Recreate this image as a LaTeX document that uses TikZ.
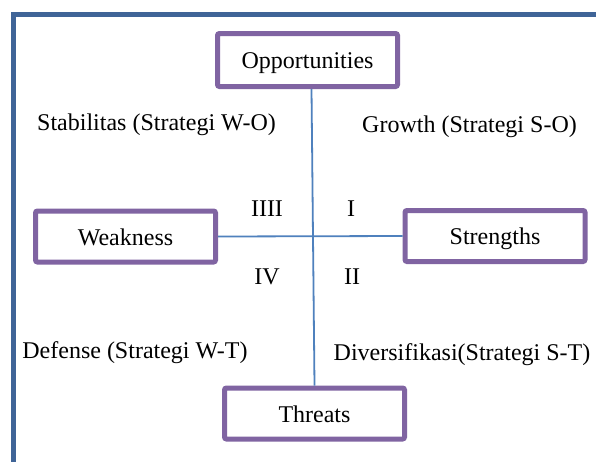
\documentclass[tikz,border=0pt]{standalone}
\usepackage{fontspec}
\setmainfont{Liberation Serif}
\usepackage{tikz}
\usetikzlibrary{positioning}
\usepackage{xcolor}
\definecolor{cframe}{HTML}{3F6497}
\definecolor{cpurple}{HTML}{8064A2}
\definecolor{cline}{HTML}{4F81BD}

\begin{document}
\begin{tikzpicture}[
  x=1pt, y=-1pt,
  box/.style={draw=cpurple, line width=5pt, rounded corners=2pt,
              minimum width=180pt, minimum height=51pt, inner sep=0pt,
              text height=22pt, text depth=5pt,
              fill=white, font=\fontsize{24}{28}\selectfont},
  lbl/.style={inner sep=0pt, text height=22pt, text depth=5pt,
              font=\fontsize{24}{28}\selectfont},
  axis/.style={draw=cline, line width=1.8pt}
]
\clip (0,0) rectangle (596,461);
\fill[white] (0,0) rectangle (596,461);
\draw[cframe, line width=5pt] (13.5,14.5) rectangle (620,490);

% the four boxes
\node[box, minimum height=53pt] (opp) at (307.5,60) {Opportunities};
\node[box] (weak) at (125.5,236.5) {Weakness};
\node[box] (str)  at (495,236)     {Strengths};
\node[box] (thr)  at (314.5,413.5) {Threats};

% axes
\draw[axis] ([xshift=4pt]opp.south) -- (thr.north);
\draw[axis] (weak.east) -- (str.west);

% quadrant numbers
\node[lbl] (q1) at (351,208) {I};
\node[lbl] (q4) at (267,208) {IIII};
\node[lbl] (q2) at (352,276) {II};
\node[lbl] (q3) at (267,276) {IV};

% strategies
\node[lbl] (wo) at (156.5,122) {Stabilitas (Strategi W-O)};
\node[lbl] (so) at (469.5,124) {Growth (Strategi S-O)};
\node[lbl] (wt) at (135,350)   {Defense (Strategi W-T)};
\node[lbl] (st) at (462,352)   {Diversifikasi(Strategi S-T)};
\end{tikzpicture}
\end{document}
